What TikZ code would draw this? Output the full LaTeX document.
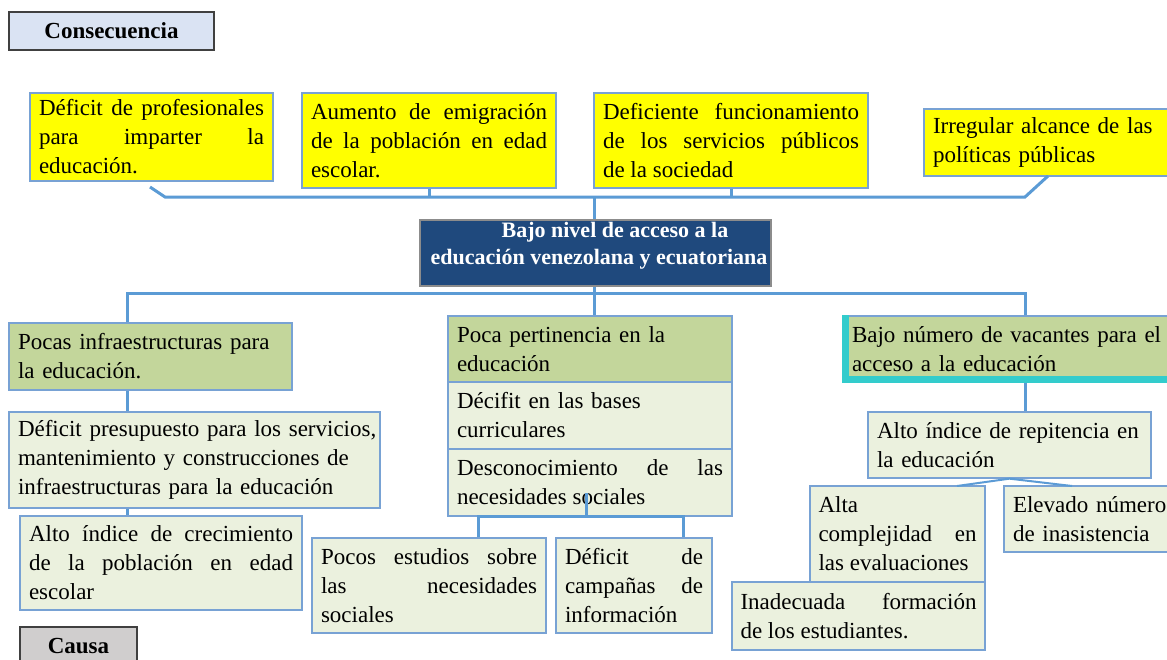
\documentclass[tikz,border=0pt]{standalone}
\usepackage{fontspec}
\setmainfont{Liberation Serif}
\definecolor{bordc}{RGB}{120,162,212}
\definecolor{connc}{RGB}{91,155,213}
\definecolor{yel}{RGB}{255,255,0}
\definecolor{hgreen}{RGB}{195,214,155}
\definecolor{lgreen}{RGB}{235,241,222}
\definecolor{navy}{RGB}{31,73,125}
\definecolor{consc}{RGB}{218,227,243}
\definecolor{causac}{RGB}{208,206,206}
\definecolor{cyanc}{RGB}{51,204,204}
\begin{document}
\begin{tikzpicture}[x=1pt,y=-1pt,
  box/.style={draw=bordc, line width=1.3pt, inner xsep=9pt, inner ysep=0pt,
    font=\fontsize{23}{29}\selectfont, text=black},
  jbox/.style={box, align=justify},
  lbox/.style={box, align=left},
  titlebox/.style={draw=black!75, line width=1.3pt, inner sep=0pt,
    font=\bfseries\fontsize{23}{27}\selectfont},
  conn/.style={draw=connc, line width=3pt},
  thinconn/.style={draw=connc, line width=2pt}]
\clip (0,0) rectangle (1167,659);
\fill[white] (0,0) rectangle (1167,659);

% titles
\node[titlebox, fill=consc, minimum width=205pt, minimum height=38pt] (cons) at (111.5,31) {Consecuencia};
\node[titlebox, fill=causac, minimum width=117pt, minimum height=38pt] (causa) at (78.5,646) {Causa};

% consequences
\node[jbox, fill=yel, minimum width=243pt, minimum height=88pt, text width=225pt] (c1) at (151.5,137)
  {Déficit de profesionales\linebreak para imparter la\linebreak educación.};
\node[jbox, fill=yel, minimum width=254pt, minimum height=95pt, text width=236pt] (c2) at (429,140.5)
  {Aumento de emigración\linebreak de la población en edad\linebreak escolar.};
\node[jbox, fill=yel, minimum width=274pt, minimum height=95pt, text width=256pt] (c3) at (731,140.5)
  {Deficiente funcionamiento\linebreak de los servicios públicos\linebreak de la sociedad};
\node[lbox, fill=yel, minimum width=276pt, minimum height=67pt, text width=258pt] (c4) at (1062,142.5)
  {Irregular alcance de las\\ políticas públicas};

% central problem
\node[draw=black!45, line width=1.3pt, fill=navy, minimum width=351pt, minimum height=66pt, inner sep=0pt] (prob) at (595.5,253) {};
\node[text=white, font=\bfseries\fontsize{22}{27}\selectfont, align=center, inner sep=0pt] (probt) at (599,245.5)
  {\hspace*{32pt}Bajo nivel de acceso a la\\ educación venezolana y ecuatoriana};

% causes left
\node[lbox, fill=hgreen, minimum width=283pt, minimum height=67pt, text width=265pt] (a1) at (150.5,356.5)
  {Pocas infraestructuras para\\ la educación.};
\node[lbox, fill=lgreen, minimum width=371pt, minimum height=96pt, text width=353pt] (a2) at (194.5,460)
  {\mbox{Déficit presupuesto para los servicios,}\\ mantenimiento y construcciones de\\ infraestructuras para la educación};
\node[jbox, fill=lgreen, minimum width=282pt, minimum height=94pt, text width=264pt] (a3) at (161,563)
  {Alto índice de crecimiento\linebreak de la población en edad\linebreak escolar};

% causes middle
\node[lbox, fill=hgreen, minimum width=284pt, minimum height=66pt, text width=266pt] (b1) at (590,349)
  {Poca pertinencia en la\\ educación};
\node[lbox, fill=lgreen, minimum width=284pt, minimum height=67pt, text width=266pt] (b2) at (590,415.5)
  {Décifit en las bases\\ curriculares};
\node[jbox, fill=lgreen, minimum width=284pt, minimum height=67pt, text width=266pt] (b3) at (590,482.5)
  {Desconocimiento de las\linebreak necesidades sociales};
\node[jbox, fill=lgreen, minimum width=234pt, minimum height=95pt, text width=216pt] (b4) at (429,585.5)
  {Pocos estudios sobre\linebreak las necesidades\linebreak sociales};
\node[jbox, fill=lgreen, minimum width=156pt, minimum height=95pt, text width=138pt] (b5) at (634,585.5)
  {Déficit de\linebreak campañas de\linebreak información};

% causes right
\node[lbox, fill=hgreen, minimum width=357pt, minimum height=66pt, text width=339pt] (d1) at (1021.5,349)
  {Bajo número de vacantes para el\\ acceso a la educación};
\draw[cyanc, line width=7pt] ([xshift=3.5pt]d1.north west) -- ([xshift=3.5pt,yshift=3.5pt]d1.south west) -- ([yshift=3.5pt]d1.south east);
\node[lbox, fill=lgreen, minimum width=283pt, minimum height=66pt, text width=265pt] (d2) at (1009.5,445)
  {Alto índice de repitencia en\\ la educación};
\node[jbox, fill=lgreen, minimum width=175pt, minimum height=96pt, text width=158pt, inner xsep=8.5pt] (d3) at (897.5,534)
  {Alta\\ complejidad en\linebreak las evaluaciones};
\node[lbox, fill=lgreen, minimum width=196pt, minimum height=66pt, text width=178pt] (d4) at (1102,519)
  {Elevado número\\ de inasistencia};
\node[jbox, fill=lgreen, minimum width=253pt, minimum height=68pt, text width=236pt, inner xsep=8.5pt] (d5) at (858.5,616)
  {Inadecuada formación\linebreak de los estudiantes.};

% helper coordinates
\coordinate (tl) at (150,187);
\coordinate (tb1) at (165,197);
\coordinate (tb2) at (1025,197);
\coordinate (tr) at (1048,176);
\coordinate (lx) at (127,293);
\coordinate (rx) at (1025,293);
\coordinate (mx) at (594,293);
\coordinate (ms) at (586,493);
\coordinate (ml) at (478,516);
\coordinate (mr) at (683,516);
\coordinate (dl) at (957,486);
\coordinate (dr) at (1072,486);

% connectors top
\draw[conn] (tl) -- (tb1) -- (tb2) -- (tr);
\draw[conn] (c2.south) -- (c2.south |- tb1);
\draw[conn] (c3.south) -- (c3.south |- tb1);
\draw[conn] (prob.north -| mx) -- (mx |- tb1);

% connectors bottom
\draw[conn] (lx |- a1.north) -- (lx) -- (rx) -- (rx |- d1.north);
\draw[conn] (prob.south -| mx) -- (mx |- b1.north);
\draw[conn] (a1.south -| lx) -- (a2.north -| lx);
\draw[conn] (a2.south -| lx) -- (a3.north -| lx);
\draw[conn] (d1.south -| rx) -- (d2.north -| rx);
\draw[conn] (ms) -- (ms |- b3.south);
\draw[conn] (b4.north -| ml) -- (ml) -- (mr) -- (b5.north -| mr);
\draw[thinconn] (dl) -- (d2.south) -- (dr);
\end{tikzpicture}
\end{document}
